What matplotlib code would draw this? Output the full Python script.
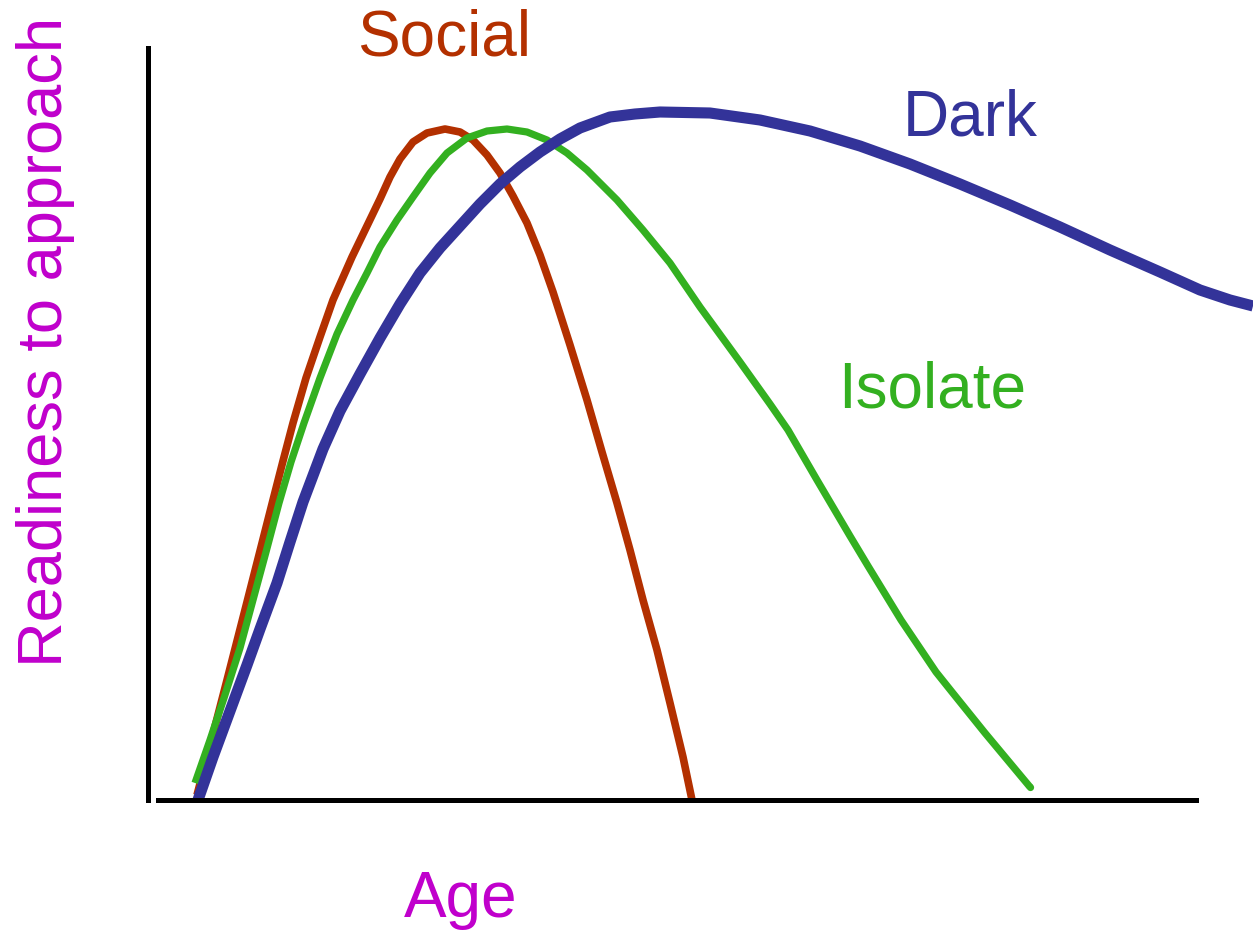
import matplotlib
matplotlib.use("Agg")
import matplotlib.pyplot as plt

# Schematic curves: readiness to approach vs age (arbitrary units)
social_age = [49, 64, 79, 89, 99, 112, 125, 135, 145, 158, 172, 185, 204, 218, 232, 242,
              252, 265, 279, 297, 312, 325, 339, 352, 365, 379, 392, 405, 422, 439, 454,
              469, 482, 495, 509, 522, 535, 544]
social_ready = [5, 62, 120, 159, 198, 249, 300, 339, 377, 422, 463, 500, 543, 572, 601, 623,
                641, 658, 667, 671, 668, 660, 645, 627, 604, 577, 545, 508, 455, 400, 348,
                297, 250, 200, 150, 97, 43, 0]

isolate_age = [47, 62, 76, 92, 105, 118, 131, 143, 156, 172, 189, 205, 219, 232, 249, 265,
               282, 299, 319, 339, 359, 379, 399, 419, 439, 469, 495, 522, 552, 592, 622,
               640, 669, 702, 720, 753, 788, 804, 837, 882]
isolate_ready = [17, 60, 102, 152, 200, 248, 297, 338, 377, 422, 466, 500, 527, 553, 580, 603,
                 627, 647, 662, 669, 671, 668, 660, 647, 630, 600, 570, 537, 493, 438, 396,
                 370, 320, 264, 234, 180, 128, 108, 67, 13]

dark_age = [50, 65, 82, 99, 112, 129, 142, 155, 175, 192, 212, 232, 252, 272, 292, 312,
            332, 352, 372, 392, 412, 432, 462, 487, 512, 562, 612, 662, 712, 762, 812,
            862, 912, 962, 1012, 1052, 1082, 1105]
dark_ready = [0, 43, 89, 135, 171, 217, 258, 298, 351, 389, 426, 462, 496, 527, 552, 574,
              596, 616, 633, 648, 661, 672, 683, 686, 688, 687, 680, 669, 654, 636, 616,
              595, 573, 550, 528, 510, 500, 494]

RED = "#B33000"
GREEN = "#33B020"
BLUE = "#333399"
MAGENTA = "#C000CC"

plt.rcParams["font.family"] = ["Liberation Sans", "DejaVu Sans"]

W, H = 1253, 934
fig = plt.figure(figsize=(W / 100, H / 100), dpi=100)
ax = fig.add_axes([148 / W, 134 / H, 1105 / W, 800 / H])
ax.set_xlim(0, 1105)
ax.set_ylim(0, 800)

ax.plot(social_age, social_ready, color=RED, lw=5.5, solid_capstyle="butt",
        solid_joinstyle="round", clip_on=False)
ax.plot(isolate_age, isolate_ready, color=GREEN, lw=5.2, solid_capstyle="butt",
        solid_joinstyle="round", marker="o", markevery=[len(isolate_age) - 1],
        ms=5.2, mew=0, clip_on=False)
ax.plot(dark_age, dark_ready, color=BLUE, lw=8, solid_capstyle="butt",
        solid_joinstyle="round", clip_on=False)

# axes: only left and bottom lines, no ticks
for side in ("top", "right"):
    ax.spines[side].set_visible(False)
ax.spines["left"].set_linewidth(3.6)
ax.spines["bottom"].set_linewidth(3.6)
ax.spines["left"].set_bounds(0, 752)
ax.spines["bottom"].set_bounds(10, 1048)
ax.set_xticks([])
ax.set_yticks([])
ax.patch.set_visible(False)

fs = 46
ax.text(296, 745, "Social", color=RED, fontsize=fs, ha="center", va="baseline")
ax.text(822, 665, "Dark", color=BLUE, fontsize=fs, ha="center", va="baseline")
ax.text(784, 393, "Isolate", color=GREEN, fontsize=fs, ha="center", va="baseline")
ax.text(313, -117, "Age", color=MAGENTA, fontsize=fs, ha="center", va="baseline",
        clip_on=False)
ax.text(-86, 458, "Readiness to approach", color=MAGENTA, fontsize=45.5,
        rotation=90, rotation_mode="anchor", ha="center", va="baseline", clip_on=False)

fig.savefig("out.png", dpi=100)
